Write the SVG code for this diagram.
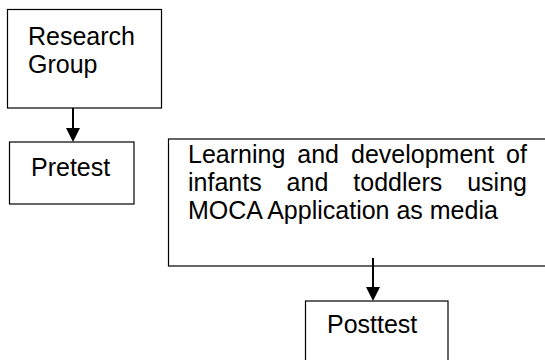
<svg xmlns="http://www.w3.org/2000/svg" width="545" height="360" viewBox="0 0 545 360">
<style>
.box{fill:#fff;stroke:#000;stroke-width:1.2}
.t{font-family:"Liberation Sans",Arial,sans-serif;font-size:25px;fill:#000}
.c{stroke:#000;stroke-width:2;fill:none}
.h{fill:#000;stroke:none}
</style>
<rect width="545" height="360" fill="#fff"/>
<g id="research-group">
<rect class="box" x="7.5" y="9.5" width="154" height="98.5"/>
<text class="t" x="28" y="45">Research</text>
<text class="t" x="28" y="73">Group</text>
</g>
<g id="pretest">
<rect class="box" x="9.5" y="142" width="124.5" height="62"/>
<text class="t" x="31" y="176">Pretest</text>
</g>
<g id="learning">
<rect class="box" x="168.5" y="139" width="390" height="127"/>
<text class="t" y="163"><tspan x="188">Learning</tspan><tspan x="297.3">and</tspan><tspan x="351">development</tspan><tspan x="506.1">of</tspan></text>
<text class="t" y="191"><tspan x="188">infants</tspan><tspan x="286.6">and</tspan><tspan x="353.3">toddlers</tspan><tspan x="467.2">using</tspan></text>
<text class="t" x="188" y="219">MOCA Application as media</text>
</g>
<g id="posttest">
<rect class="box" x="305.5" y="301" width="142.5" height="70"/>
<text class="t" x="327" y="333">Posttest</text>
</g>
<g id="connectors">
<line class="c" x1="73" y1="108" x2="73" y2="130"/>
<polygon class="h" points="66,128 80,128 73,142"/>
<line class="c" x1="373" y1="258" x2="373" y2="289"/>
<polygon class="h" points="366,287 380,287 373,301"/>
</g>
</svg>
